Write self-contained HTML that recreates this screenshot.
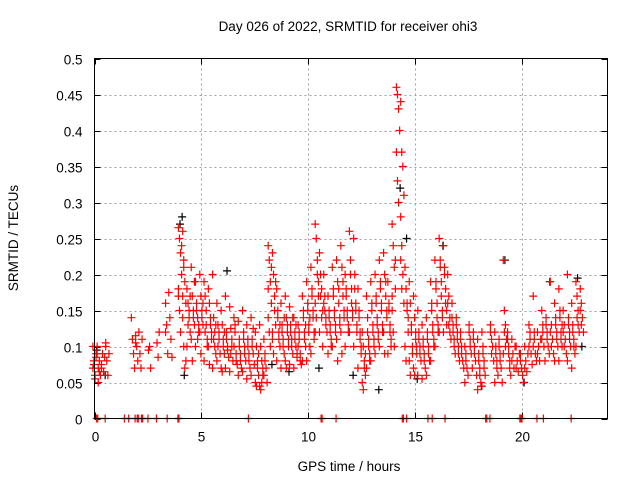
<!DOCTYPE html>
<html><head><meta charset="utf-8"><style>
body{margin:0;background:#fff;}
svg{display:block;font-family:"Liberation Sans","DejaVu Sans",sans-serif;}
</style></head><body>
<svg id="chart" width="640" height="480" viewBox="0 0 640 480">
<rect width="640" height="480" fill="#fff"/>
<text x="348" y="31" font-size="13.5" text-anchor="middle">Day 026 of 2022, SRMTID for receiver ohi3</text>
<text x="349" y="471" font-size="13.5" text-anchor="middle">GPS time / hours</text>
<text x="18" y="238" font-size="13.5" text-anchor="middle" transform="rotate(-90 18 238)">SRMTID / TECUs</text>
<g id="grid"></g>
<g id="axes"></g>
<g id="marks"></g>
<rect x="94.5" y="58.5" width="513" height="360" fill="none" stroke="#000" stroke-width="1"/>
</svg>
<script>
const xTicks=[0,5,10,15,20];
const yTicks=[0,0.05,0.1,0.15,0.2,0.25,0.3,0.35,0.4,0.45,0.5];
const yTickLabels=["0","0.05","0.1","0.15","0.2","0.25","0.3","0.35","0.4","0.45","0.5"];
const redTimes=[0.0,0.2,0.4,0.6,1.8,2.0,2.2,2.6,3.0,3.4,3.6,4.0,4.2,4.4,4.6,4.8,5.0,5.2,5.4,5.6,5.8,6.0,6.2,6.4,6.6,6.8,7.0,7.2,7.4,7.6,7.8,8.0,8.2,8.4,8.6,8.8,9.0,9.2,9.4,9.6,9.8,10.0,10.2,10.4,10.6,10.8,11.0,11.2,11.4,11.6,11.8,12.0,12.2,12.4,12.6,12.8,13.0,13.2,13.4,13.6,13.8,14.0,14.2,14.4,14.6,14.8,15.0,15.2,15.4,15.6,15.8,16.0,16.2,16.4,16.6,16.8,17.0,17.2,17.4,17.6,17.8,18.0,18.2,18.6,18.8,19.0,19.2,19.4,19.6,19.8,20.0,20.2,20.4,20.6,20.8,21.0,21.2,21.4,21.6,21.8,22.0,22.2,22.4,22.6,22.8];
const redValues=[
[.10,.08,.06,.09,.07,.075,.055,.085],[.09,.05,.08,.06,.10,.07,.065],[.07,.09,.065,.085,.075],[.10,.08,.06,.09,.105],
[.14,.11,.09,.07],[.115,.10,.08,.12,.105],[.09,.07,.11],[.095,.10,.07],[.105,.085,.12],
[.16,.13,.09,.175,.12],[.14,.11,.085],[.265,.25,.23,.20,.17,.15,.12,.24,.18],[.26,.22,.19,.16,.14,.10,.07,.08,.17,.21],
[.18,.16,.14,.12,.10,.13,.15,.17],[.21,.17,.15,.13,.11,.08,.14,.19],[.19,.16,.14,.12,.10,.15,.11,.13],[.20,.17,.15,.13,.12,.09,.14,.16],
[.19,.17,.13,.11,.08,.12,.15,.10],[.18,.16,.14,.12,.10,.075,.13,.11],[.20,.14,.12,.09,.07,.11,.10,.13],[.16,.13,.11,.09,.08,.10,.12],
[.15,.13,.11,.09,.07,.065,.10,.12],[.17,.12,.10,.085,.07,.11,.095],[.155,.125,.10,.08,.065,.09,.11],[.14,.12,.09,.075,.10,.13,.08],
[.135,.11,.09,.07,.06,.10,.08],[.15,.12,.10,.08,.065,.11,.09],[.13,.11,.09,.07,.055,.10,.08],[.14,.11,.09,.075,.06,.10,.125],
[.12,.10,.08,.06,.05,.045,.07,.09],[.13,.10,.08,.06,.045,.04,.05,.07],[.11,.09,.07,.05,.06,.08],[.24,.22,.19,.16,.14,.12,.10,.21,.18],
[.23,.20,.17,.13,.11,.09,.15,.19,.12],[.18,.15,.12,.10,.08,.14,.11,.13],[.16,.13,.11,.09,.07,.12,.10,.14],[.17,.14,.12,.10,.08,.07,.13,.11],
[.155,.13,.11,.09,.075,.12,.10,.14],[.14,.12,.10,.085,.07,.11,.13,.09],[.13,.11,.09,.075,.10,.12,.08],[.17,.15,.12,.10,.08,.14,.11,.13],
[.19,.16,.13,.10,.08,.15,.12,.14],[.21,.18,.15,.12,.09,.17,.14,.11],[.27,.25,.22,.19,.16,.14,.20,.17,.12],[.23,.20,.18,.15,.12,.17,.14,.10],
[.20,.17,.14,.12,.16,.15,.13],[.17,.15,.13,.11,.09,.14,.12,.10],[.21,.18,.15,.12,.10,.17,.14,.13],[.22,.19,.16,.14,.11,.08,.18,.13],
[.24,.21,.17,.14,.12,.09,.19,.15],[.20,.18,.15,.12,.10,.17,.14,.13],[.26,.22,.18,.15,.12,.20,.16,.14],[.25,.20,.16,.13,.10,.18,.15,.12],
[.18,.15,.12,.09,.07,.14,.11,.10],[.12,.10,.08,.06,.05,.04,.07,.09],[.17,.14,.11,.09,.07,.12,.10,.08],[.19,.16,.13,.10,.08,.15,.12,.11],
[.20,.17,.14,.11,.09,.16,.13,.12],[.22,.19,.16,.13,.10,.18,.15,.12],[.23,.20,.17,.14,.12,.09,.19,.15],[.19,.16,.13,.11,.09,.15,.12,.10],
[.27,.24,.21,.18,.15,.12,.10,.22,.17],[.46,.45,.43,.40,.37,.33,.30],[.44,.37,.35,.31,.28,.24,.20,.16,.22,.18],
[.21,.18,.15,.12,.10,.08,.16,.14],[.19,.16,.13,.10,.08,.06,.12,.09],[.17,.14,.11,.09,.07,.06,.12,.10],[.15,.12,.10,.08,.06,.11,.09],
[.13,.11,.09,.07,.055,.10,.08],[.14,.12,.10,.08,.06,.11,.09],[.19,.16,.13,.10,.08,.15,.12,.11],[.22,.19,.16,.13,.10,.18,.14,.12],
[.25,.22,.19,.15,.12,.21,.17,.14],[.24,.21,.18,.15,.12,.20,.16,.13],[.20,.17,.14,.11,.16,.13,.12],[.16,.13,.11,.09,.14,.12,.10],[.14,.12,.10,.08,.13,.11,.09],
[.12,.10,.08,.07,.11,.09],[.10,.08,.07,.06,.05,.09],[.13,.11,.09,.07,.12,.10],[.12,.10,.08,.06,.11,.09],[.11,.09,.07,.05,.04,.08,.06],
[.12,.10,.08,.06,.045,.09,.07],[.13,.11,.10,.08,.12,.09],[.12,.10,.08,.06,.05,.09,.07],[.11,.09,.07,.05,.10,.08],[.22,.15,.13,.11,.09,.12,.10],
[.12,.10,.08,.06,.11,.09,.07],[.11,.09,.07,.10,.08],[.10,.08,.065,.09,.07],[.09,.07,.06,.05,.08],[.10,.08,.065,.09,.07],[.13,.11,.09,.075,.10,.12],
[.17,.11,.09,.08,.10,.12],[.12,.10,.08,.11,.09],[.15,.12,.10,.08,.11,.13],[.14,.12,.10,.09,.13,.11],[.19,.13,.11,.09,.12,.10],
[.16,.14,.12,.10,.08,.13,.11],[.18,.15,.12,.10,.08,.14,.11,.13],[.15,.13,.11,.09,.12,.10],[.20,.14,.12,.10,.08,.13,.11],
[.16,.13,.11,.09,.07,.12,.10],[.19,.17,.15,.12,.10,.14,.13],[.18,.16,.14,.12,.15,.13]];
const blackTimes=[0.1,0.5,4.0,4.1,4.2,6.2,8.3,9.1,10.5,12.1,13.3,14.3,14.6,15.1,16.3,18.1,19.2,20.1,21.3,22.6,22.8];
const blackValues=[.095,.06,.27,.28,.06,.205,.075,.065,.07,.06,.04,.32,.25,.055,.24,.045,.22,.05,.19,.195,.10];
const zeroTimes=[0.1,0.15,0.5,1.4,1.6,1.9,2.0,2.05,2.2,2.25,2.5,2.9,3.4,3.9,3.95,7.2,10.6,10.65,11.3,14.4,14.45,14.6,15.6,15.8,16.4,18.3,18.35,18.5,19.9,19.95,20.0,20.7,21.0,22.3];

const X0=94.5,X1=607.5,Y0=418.5,Y1=58.5;
const xs=t=>X0+(t/24)*(X1-X0);
const ys=v=>Y0-(v/0.5)*(Y0-Y1);
const NS="http://www.w3.org/2000/svg";
const grid=document.getElementById('grid'),axes=document.getElementById('axes'),marks=document.getElementById('marks');
function mk(tag,at,parent){const e=document.createElementNS(NS,tag);for(const k in at)e.setAttribute(k,at[k]);parent.appendChild(e);return e;}
yTicks.forEach((v,i)=>{
  const y=Math.round(ys(v))+0.5;
  if(i>0&&i<yTicks.length-1){
    const g=mk('line',{x1:X0,x2:X1,y1:y,y2:y,stroke:'#a0a0a0','stroke-dasharray':'2,3'},grid);
    
    
  }
  const t=mk('line',{x1:X0,x2:X0+6,y1:y,y2:y,stroke:'#000'},axes);
  
  
  mk('line',{x1:X1-6,x2:X1,y1:y,y2:y,stroke:'#000'},axes);
  const l=mk('text',{x:X0-12,y:y+5,'font-size':13.5,'text-anchor':'end'},axes);
  l.textContent=yTickLabels[i];
  
  
});
xTicks.forEach(v=>{
  const x=Math.round(xs(v))+0.5;
  if(v>0){
    const g=mk('line',{x1:x,x2:x,y1:Y1,y2:Y0,stroke:'#a0a0a0','stroke-dasharray':'2,3'},grid);
    
    
  }
  const t=mk('line',{x1:x,x2:x,y1:Y0-6,y2:Y0,stroke:'#000'},axes);
  
  
  mk('line',{x1:x,x2:x,y1:Y1,y2:Y1+6,stroke:'#000'},axes);
  const l=mk('text',{x:x,y:Y0+23,'font-size':13.5,'text-anchor':'middle'},axes);
  l.textContent=String(v);
  
  
});
function plus(t,v,color,name){
  const x=xs(t),y=ys(v);
  const p=mk('path',{d:`M${x-4},${y}H${x+4}M${x},${y-4}V${y+4}`,stroke:color,'stroke-width':1.2,fill:'none'},marks);
  
  
}
blackTimes.forEach((t,i)=>plus(t,blackValues[i],'#000','black-point'));
redTimes.forEach((t,i)=>redValues[i].forEach((v,j)=>plus(t+(j%4-1.5)*0.05,v,'#ff0000','red-point')));
zeroTimes.forEach(t=>plus(t,0,'#ff0000','zero-point'));
</script>
</body></html>
